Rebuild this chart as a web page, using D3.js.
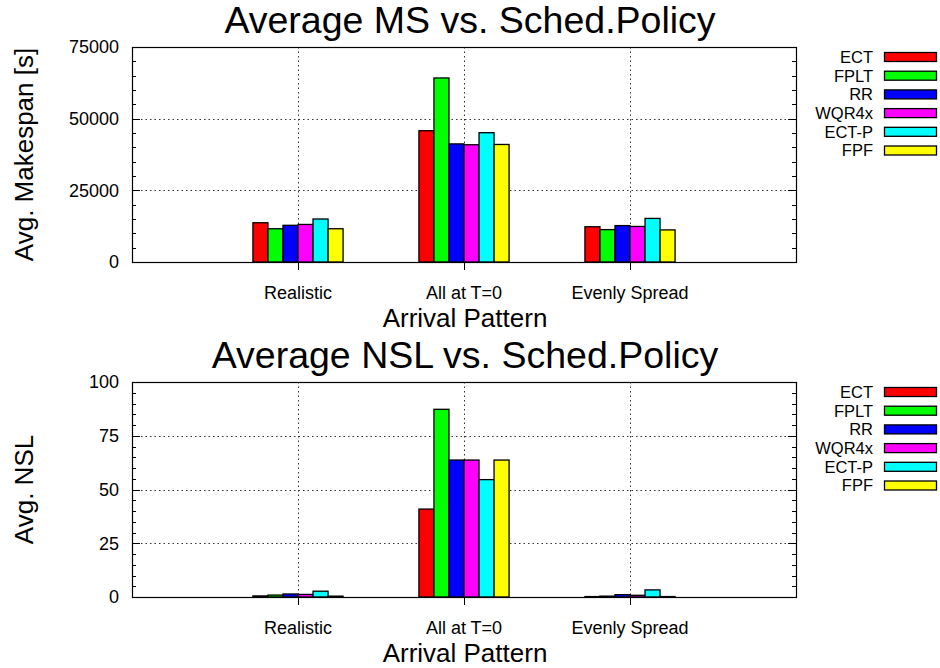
<!DOCTYPE html>
<html>
<head>
<meta charset="utf-8">
<script src="https://cdn.jsdelivr.net/npm/d3@7"></script>
<style>
  html, body { margin: 0; padding: 0; background: #fff; }
  svg { display: block; font-family: "Liberation Sans", Arial, Helvetica, sans-serif; }
</style>
</head>
<body>
<svg id="chart" width="940" height="668"></svg>
<script>
// Arrival patterns along the x axis
const categories = ["Realistic", "All at T=0", "Evenly Spread"];
// Scheduling policies (one bar each per pattern)
const policies = ["ECT", "FPLT", "RR", "WQR4x", "ECT-P", "FPF"];
const policyColors = ["#ff0000", "#00ff00", "#0000ff", "#ff00ff", "#00ffff", "#ffff00"];

// Average makespan [s] per policy, by arrival pattern
const msECT   = [13700, 45800, 12300];
const msFPLT  = [11600, 64200, 11300];
const msRR    = [12800, 41200, 12700];
const msWQR4x = [13100, 40900, 12400];
const msECTP  = [15000, 45100, 15200];
const msFPF   = [11600, 41000, 11200];

// Average NSL per policy, by arrival pattern
const nslECT   = [0.5, 40.9, 0.2];
const nslFPLT  = [0.9, 87.3, 0.4];
const nslRR    = [1.4, 63.7, 1.1];
const nslWQR4x = [1.2, 63.7, 0.8];
const nslECTP  = [2.7, 54.6, 3.3];
const nslFPF   = [0.4, 63.7, 0.2];

// Y axis tick labels
const msTicks  = [0, 25000, 50000, 75000];
const nslTicks = [0, 25, 50, 75, 100];

const svg = d3.select("#chart");

function drawPanel(cfg) {
  const left = 132, right = 796;
  const top = cfg.top, bottom = cfg.top + 215;
  const g = svg.append("g");

  const x = d3.scaleLinear().domain([-1, 3]).range([left, right]);
  const y = d3.scaleLinear().domain(cfg.domain).range([bottom, top]);
  const barW = 0.0905;

  // Title
  g.append("text").attr("x", cfg.titleX).attr("y", top - 14)
    .attr("text-anchor", "middle").attr("font-size", 37.5).attr("fill", "#000")
    .text(cfg.title);

  // Dotted grid
  const grid = g.append("g").attr("stroke", "#333").attr("stroke-width", 1)
    .attr("stroke-dasharray", "1.5,3");
  cfg.ticks.filter(t => t > cfg.domain[0] && t < cfg.domain[1]).forEach(t => {
    grid.append("line").attr("x1", left).attr("x2", right)
      .attr("y1", Math.round(y(t)) + 0.5).attr("y2", Math.round(y(t)) + 0.5);
  });
  categories.forEach((c, i) => {
    grid.append("line").attr("x1", Math.round(x(i)) + 0.5).attr("x2", Math.round(x(i)) + 0.5)
      .attr("y1", top).attr("y2", bottom);
  });

  // Bars
  const bars = g.append("g");
  cfg.series.forEach((vals, k) => {
    vals.forEach((v, i) => {
      const x0 = x(i + (k - 3) * barW), x1 = x(i + (k - 2) * barW);
      bars.append("rect")
        .attr("x", x0).attr("y", y(v))
        .attr("width", x1 - x0).attr("height", y(0) - y(v))
        .attr("fill", policyColors[k]).attr("stroke", "#000").attr("stroke-width", 1.3);
    });
  });

  // Frame
  g.append("rect").attr("x", left + 0.5).attr("y", top + 0.5)
    .attr("width", right - left).attr("height", bottom - top)
    .attr("fill", "none").attr("stroke", "#000").attr("stroke-width", 1.2);

  // Y ticks: major + minor, mirrored on the right
  const yTicks = g.append("g").attr("stroke", "#000").attr("stroke-width", 1);
  const step = cfg.minorStep;
  for (let v = cfg.domain[0]; v <= cfg.domain[1] + 1e-9; v += step) {
    const major = cfg.ticks.some(t => Math.abs(t - v) < 1e-9);
    const len = major ? 8 : 4;
    const yy = Math.round(y(v)) + 0.5;
    yTicks.append("line").attr("x1", left).attr("x2", left + len).attr("y1", yy).attr("y2", yy);
    yTicks.append("line").attr("x1", right - len).attr("x2", right).attr("y1", yy).attr("y2", yy);
  }
  cfg.ticks.forEach(t => {
    g.append("text").attr("x", 119).attr("y", y(t)).attr("dy", "0.36em")
      .attr("text-anchor", "end").attr("font-size", 18).attr("fill", "#000").text(t);
  });

  // X ticks and category labels
  categories.forEach((c, i) => {
    const xx = Math.round(x(i)) + 0.5;
    g.append("line").attr("x1", xx).attr("x2", xx).attr("y1", bottom).attr("y2", bottom + 8)
      .attr("stroke", "#000").attr("stroke-width", 1);
    g.append("text").attr("x", x(i)).attr("y", bottom + 36.5)
      .attr("text-anchor", "middle").attr("font-size", 18).attr("fill", "#000").text(c);
  });

  // Axis titles
  g.append("text").attr("x", 465).attr("y", bottom + 65)
    .attr("text-anchor", "middle").attr("font-size", 26).attr("fill", "#000")
    .text("Arrival Pattern");
  g.append("text").attr("transform", `translate(33,${(top + bottom) / 2}) rotate(-90)`)
    .attr("text-anchor", "middle").attr("font-size", 26).attr("fill", "#000")
    .text(cfg.yLabel);

  // Legend
  const lg = g.append("g");
  policies.forEach((p, k) => {
    const cy = top + 10 + k * 18.7;
    lg.append("text").attr("x", 873).attr("y", cy).attr("dy", "0.36em")
      .attr("text-anchor", "end").attr("font-size", 16.5).attr("fill", "#000").text(p);
    lg.append("rect").attr("x", 884.5).attr("y", cy - 4.5).attr("width", 52).attr("height", 9)
      .attr("fill", policyColors[k]).attr("stroke", "#000").attr("stroke-width", 1.3);
  });
}

drawPanel({
  top: 47,
  title: "Average MS vs. Sched.Policy",
  titleX: 470,
  yLabel: "Avg. Makespan [s]",
  domain: [0, 75000],
  ticks: msTicks,
  minorStep: 5000,
  series: [msECT, msFPLT, msRR, msWQR4x, msECTP, msFPF]
});

drawPanel({
  top: 382,
  title: "Average NSL vs. Sched.Policy",
  titleX: 465,
  yLabel: "Avg. NSL",
  domain: [0, 100],
  ticks: nslTicks,
  minorStep: 5,
  series: [nslECT, nslFPLT, nslRR, nslWQR4x, nslECTP, nslFPF]
});
</script>
</body>
</html>
